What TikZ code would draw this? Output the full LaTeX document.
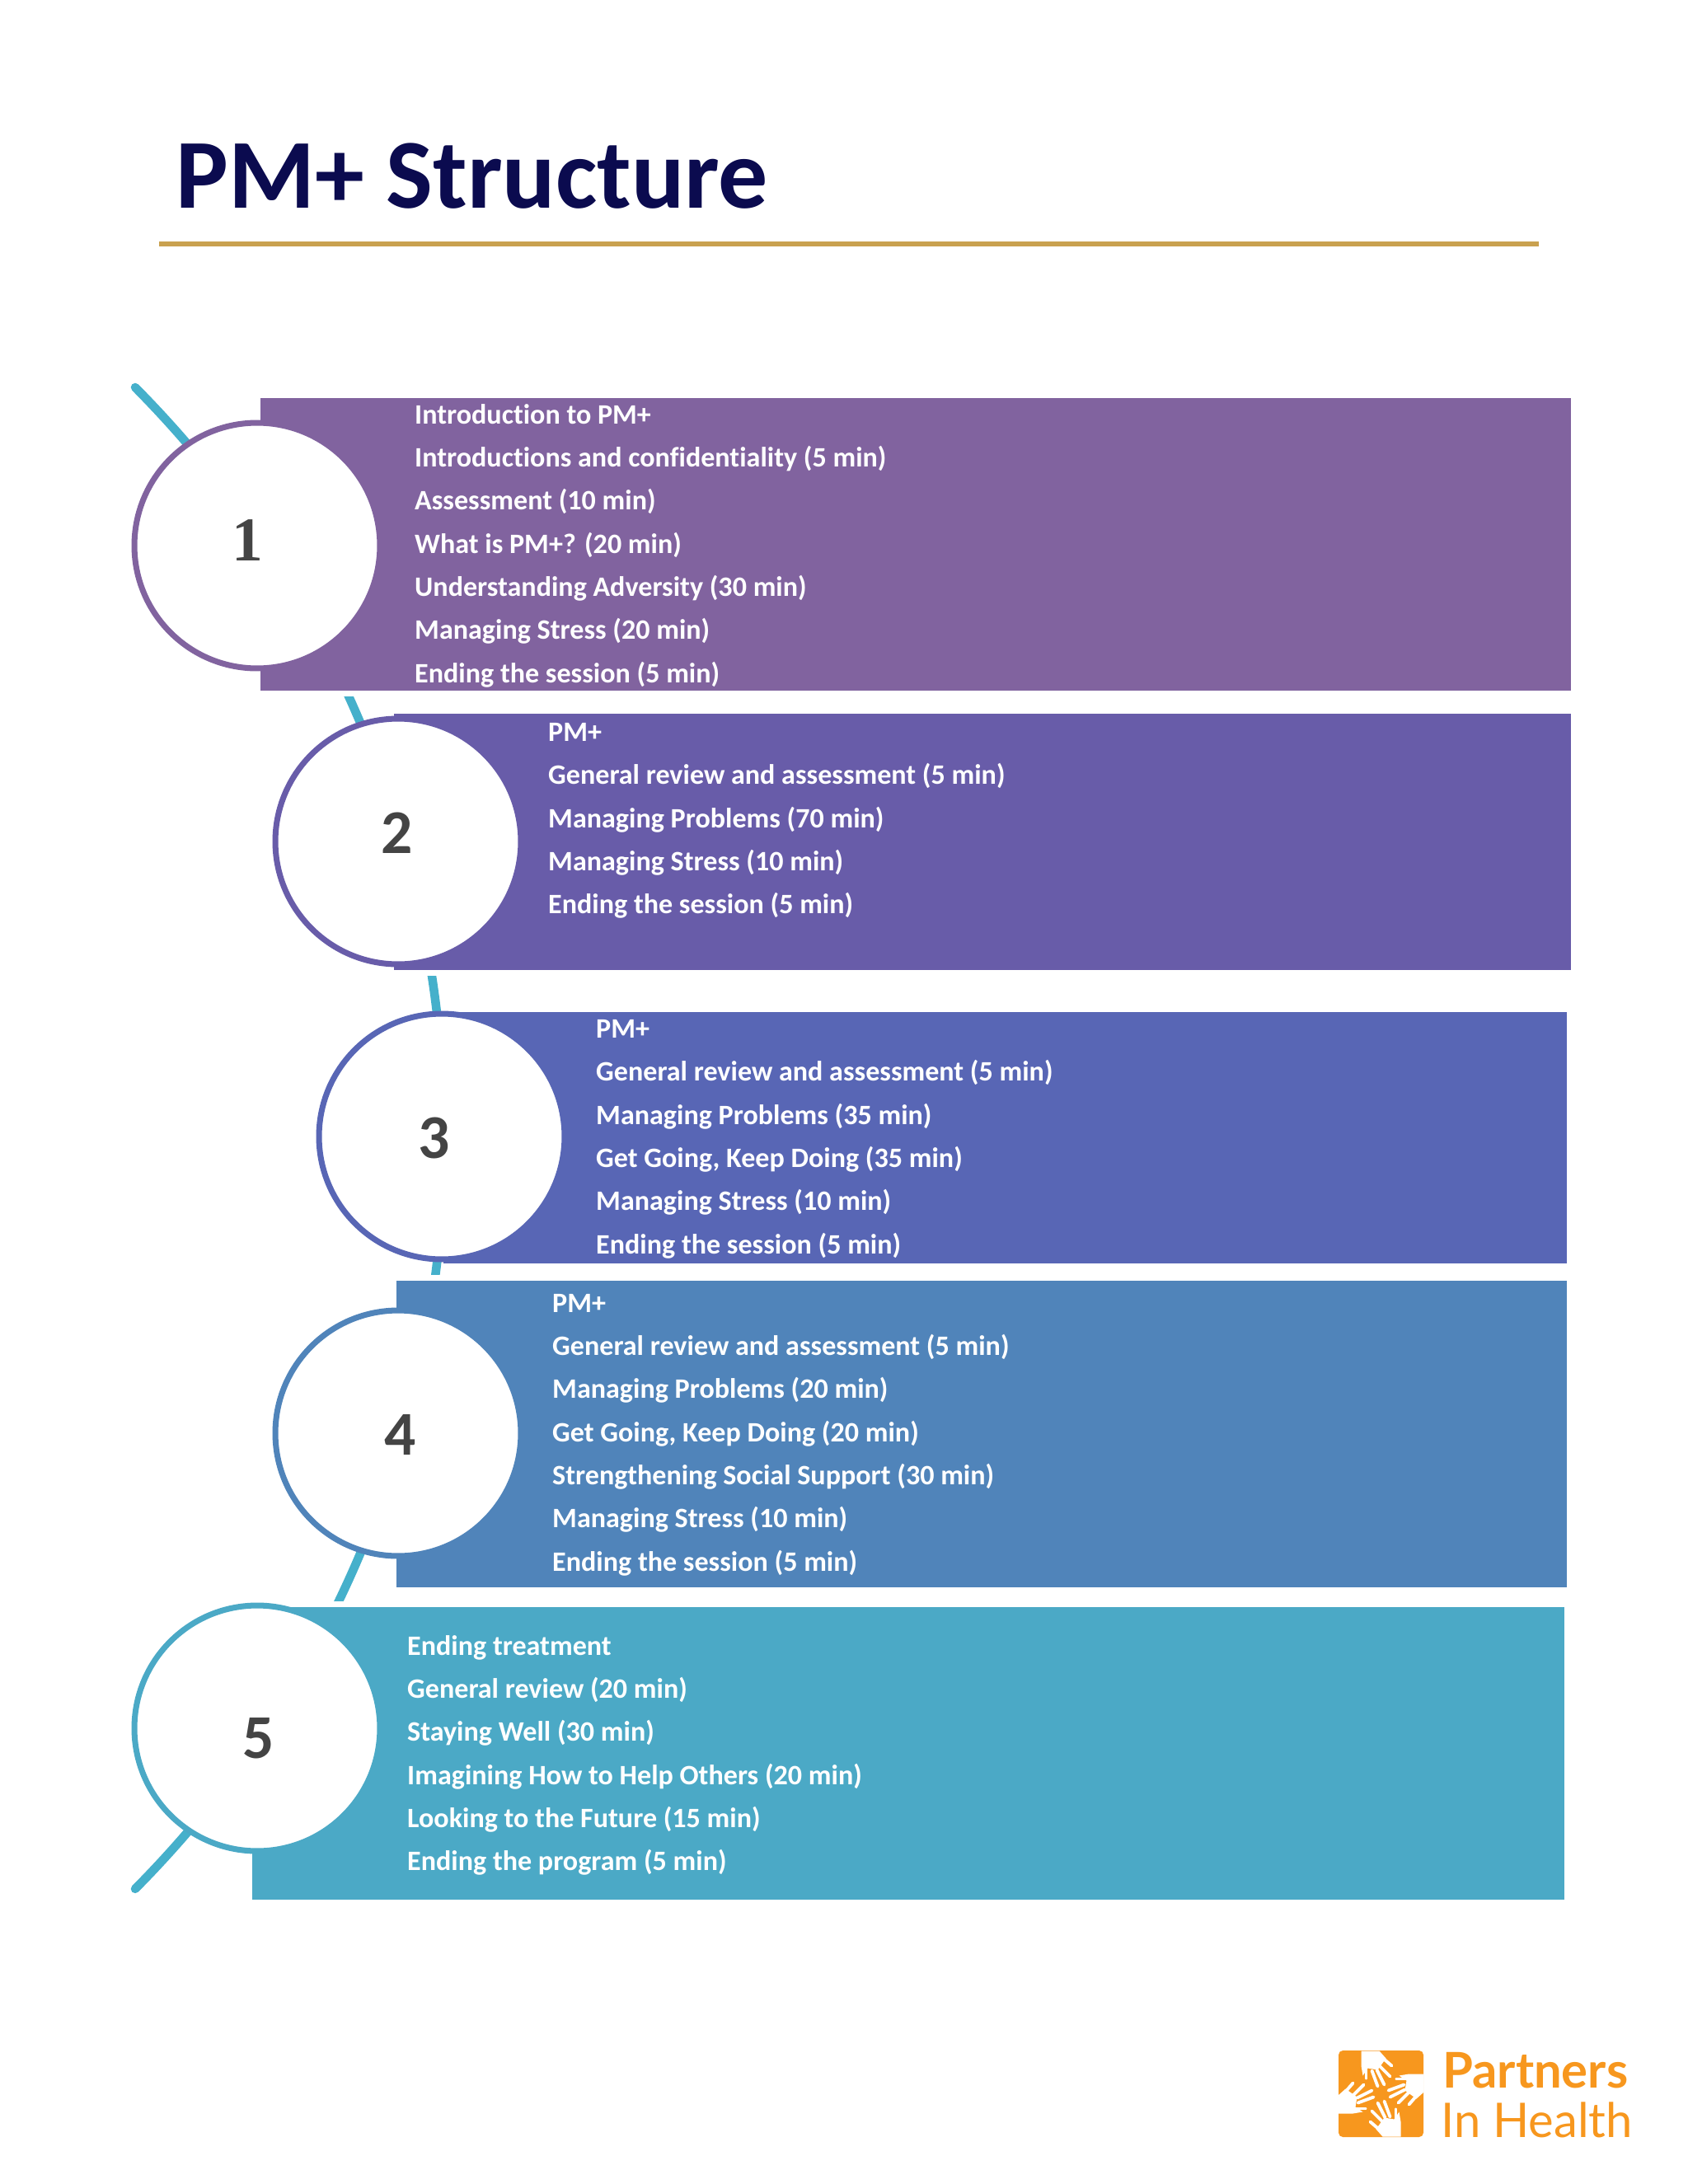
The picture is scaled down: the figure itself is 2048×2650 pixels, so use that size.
\documentclass[tikz,border=0pt]{standalone}
\usepackage{fontspec}
\setmainfont[Ligatures=NoCommon]{Carlito}
\newfontfamily\logofont{Lato}
\newfontfamily\onefont{Liberation Serif}
\definecolor{stepone}{HTML}{81639F}
\definecolor{steptwo}{HTML}{685CA9}
\definecolor{stepthree}{HTML}{5866B5}
\definecolor{stepfour}{HTML}{5084BA}
\definecolor{stepfive}{HTML}{4BA9C6}
\definecolor{spinecol}{HTML}{45B0CB}
\definecolor{titlecol}{HTML}{0B0B4F}
\definecolor{rulecol}{HTML}{C9A14F}
\definecolor{numcol}{HTML}{444444}
\definecolor{logocol}{HTML}{F7971E}
\tikzset{
    band/.style={fill=#1,preaction={draw=white,line width=8pt}},
    plainband/.style={fill=#1},
    stepcircle/.style={circle,draw=#1,fill=white,line width=4pt,inner sep=0pt,minimum size=5.96cm},
    stepnum/.style={text=numcol,font=\fontsize{43}{50}\selectfont\bfseries},
    steplist/.style={anchor=west,align=left,text=white,font=\fontsize{19.4}{29.8}\selectfont\bfseries},
    spine/.style={draw=spinecol,line width=6pt,line cap=round},
    finger/.style={white,line width=2.2pt,line cap=round}
}
\begin{document}
\begin{tikzpicture}[x=0.02cm,y=0.02cm]
    \useasboundingbox (0,0) rectangle (2048,-2650);
    % title
    \node[anchor=base west,inner sep=0pt,text=titlecol,font=\fontsize{68.3}{74}\selectfont\bfseries] (title) at (213,-252) {PM+ Structure};
    \coordinate (ruleleft) at (193,-296);
    \coordinate (ruleright) at (1867,-296);
    \draw[rulecol,line width=3pt] (ruleleft) -- (ruleright);
    % spine behind everything
    \coordinate (spinetop) at (164,-470);
    \draw[spine] (spinetop) arc[start angle=44.75,end angle=-44.75,radius=1294];
    % bands
    \path[band=stepone] (316,-483) rectangle (1906,-838);
    \path[band=steptwo] (478,-866) rectangle (1906,-1177);
    \path[plainband=stepthree] (538,-1228) rectangle (1901,-1533);
    \path[band=stepfour] (481,-1554) rectangle (1901,-1926);
    \path[band=stepfive] (306,-1950) rectangle (1898,-2305);
    % circles
    \node[stepcircle=stepone] (circ1) at (312,-662) {};
    \node[stepcircle=steptwo] (circ2) at (483,-1021) {};
    \node[stepcircle=stepthree] (circ3) at (536,-1379) {};
    \node[stepcircle=stepfour] (circ4) at (483,-1739) {};
    \node[stepcircle=stepfive] (circ5) at (312,-2097) {};
    \node[stepnum] (num1) at (300,-656) {\onefont\bfseries 1};
    \node[stepnum] (num2) at (482,-1011) {2};
    \node[stepnum] (num3) at (527,-1381) {3};
    \node[stepnum] (num4) at (486,-1741) {4};
    \node[stepnum] (num5) at (314,-2109) {5};
    % session lists
    \node[steplist] (list1) at (497,-662) {Introduction to PM+\\Introductions and confidentiality (5 min)\\Assessment (10 min)\\What is PM+? (20 min)\\Understanding Adversity (30 min)\\Managing Stress (20 min)\\Ending the session (5 min)};
    \node[steplist] (list2) at (659,-996) {PM+\\General review and assessment (5 min)\\Managing Problems (70 min)\\Managing Stress (10 min)\\Ending the session (5 min)};
    \node[steplist] (list3) at (717,-1382) {PM+\\General review and assessment (5 min)\\Managing Problems (35 min)\\Get Going, Keep Doing (35 min)\\Managing Stress (10 min)\\Ending the session (5 min)};
    \node[steplist] (list4) at (664,-1741) {PM+\\General review and assessment (5 min)\\Managing Problems (20 min)\\Get Going, Keep Doing (20 min)\\Strengthening Social Support (30 min)\\Managing Stress (10 min)\\Ending the session (5 min)};
    \node[steplist] (list5) at (488,-2130) {Ending treatment\\General review (20 min)\\Staying Well (30 min)\\Imagining How to Help Others (20 min)\\Looking to the Future (15 min)\\Ending the program (5 min)};
    % logo
    \fill[logocol,rounded corners=3pt] (1624,-2488) rectangle (1727,-2593);
    \foreach \ang in {0,-90,-180,-270}{
        \begin{scope}[shift={(1675.5,-2540.5)},rotate=\ang]
            \fill[white] (-24,52) -- (-2,52) -- (6,43) -- (-4,29) -- (-16,31) -- (-22,22) -- (-24,34) -- cycle;
            \draw[finger] (-1,46) -- (13,34);
            \draw[finger] (-1,33) -- (11,21);
            \draw[finger] (-5,29) -- (4,11);
            \draw[finger] (-11,28) -- (-4,9);
            \draw[finger] (-18,33) -- (-18,19);
        \end{scope}
    }
    \node[anchor=base west,inner sep=0pt,text=logocol,font=\fontsize{34}{40}\logofont\bfseries] (logotop) at (1750,-2533) {Partners};
    \node[anchor=base west,inner sep=0pt,text=logocol,font=\fontsize{33}{40}\logofont] (logobot) at (1748,-2593) {In Health};
\end{tikzpicture}
\end{document}
